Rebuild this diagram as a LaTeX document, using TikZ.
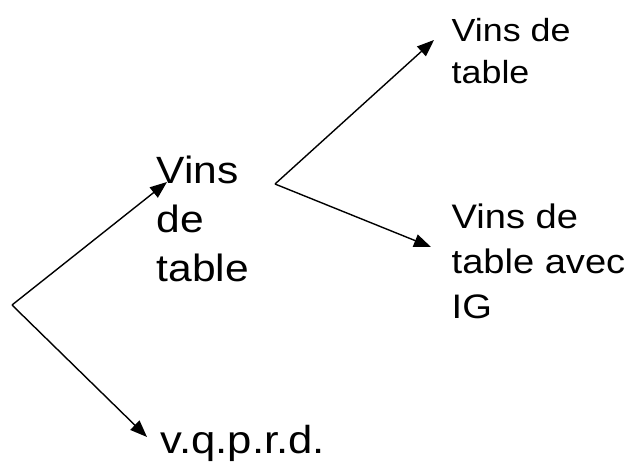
\documentclass[tikz,border=0pt]{standalone}
\usepackage{fontspec}
\setmainfont{Liberation Sans}
\newfontfamily\widesans[FakeStretch=1.12]{Liberation Sans}
\usetikzlibrary{arrows.meta}

\begin{document}
\begin{tikzpicture}[x=1pt,y=-1pt,line width=1.4pt]
        \tikzstyle{every node}=[inner sep=0pt, anchor=north west, align=left]
        \tikzstyle{big}=[font=\widesans\fontsize{38}{49}\selectfont]
        \tikzstyle{small}=[font=\widesans\fontsize{32}{42}\selectfont]
        \tikzstyle{medium}=[font=\widesans\fontsize{34}{45}\selectfont]
        \tikzstyle{branch}=[-{Triangle[length=17pt,width=13pt]}]
        \useasboundingbox (0,0) rectangle (626,463);
        \coordinate (fork1) at (12,305);
        \coordinate (fork2) at (275,184);
        \node[big] (vdt) at (156,155) {Vins\\de\\table};
        \node[big, font=\widesans\fontsize{39}{49}\selectfont, anchor=base west] (vqprd) at (160,453) {v.q.p.r.d.};
        \node[small] (vdt2) at (451,18) {Vins de\\table};
        \node[medium] (vdtig) at (451,203) {Vins de\\table avec\\IG};
        \coordinate (tip1) at (167,182);
        \coordinate (tip2) at (147,437);
        \coordinate (tip3) at (434,40);
        \coordinate (tip4) at (431,247);
        \draw[branch] (fork1) -- (tip1);
        \draw[branch] (fork1) -- (tip2);
        \draw[branch] (fork2) -- (tip3);
        \draw[branch] (fork2) -- (tip4);
    \end{tikzpicture}
\end{document}
